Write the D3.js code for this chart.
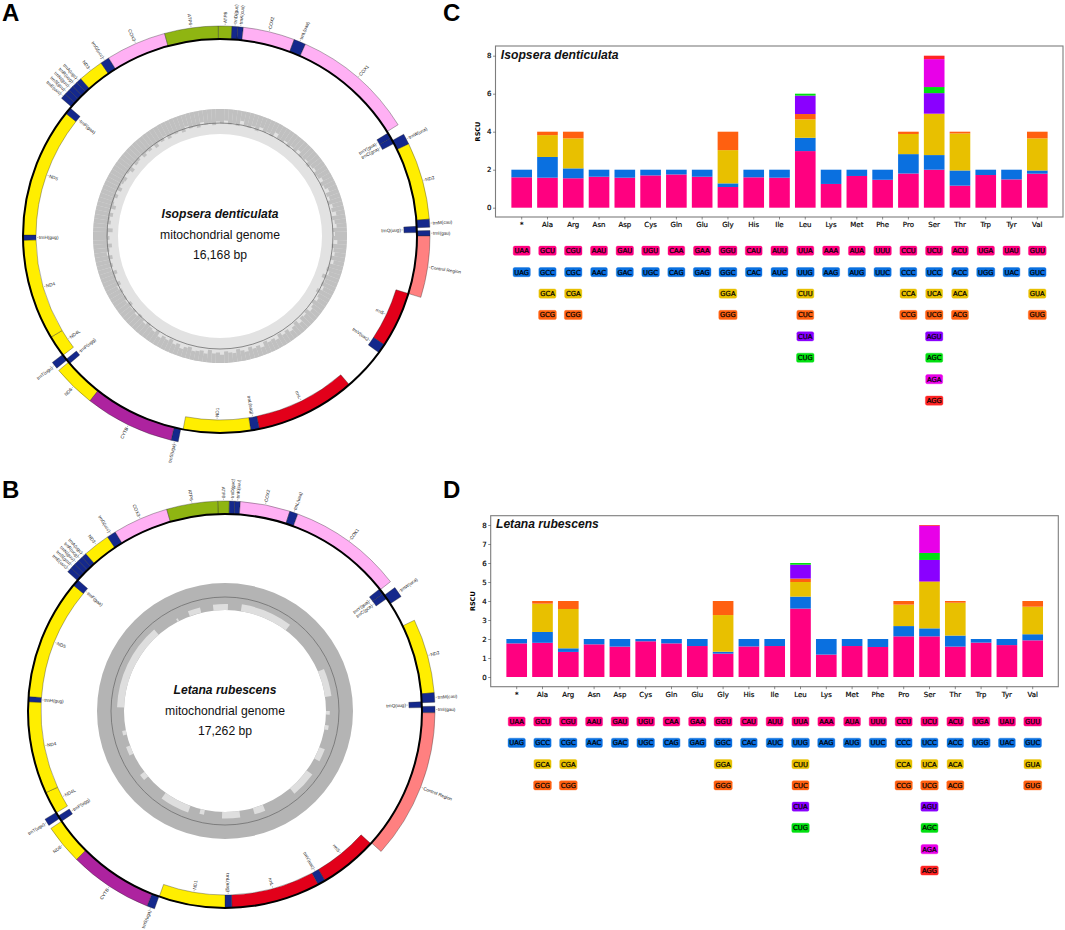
<!DOCTYPE html>
<html>
<head>
<meta charset="utf-8">
<script src="https://cdn.jsdelivr.net/npm/d3@7"></script>
<style>
html,body{margin:0;padding:0;background:#fff}
svg{display:block}
</style>
</head>
<body>
<svg id="fig" width="1065" height="930" viewBox="0 0 1065 930"></svg>
<script>
// ---------- RSCU data ----------
const aminoAcids = ["*","Ala","Arg","Asn","Asp","Cys","Gln","Glu","Gly","His","Ile","Leu","Lys","Met","Phe","Pro","Ser","Thr","Trp","Tyr","Val"];
const codons = [
 ["UAA","UAG"],["GCU","GCC","GCA","GCG"],["CGU","CGC","CGA","CGG"],["AAU","AAC"],["GAU","GAC"],["UGU","UGC"],["CAA","CAG"],["GAA","GAG"],
 ["GGU","GGC","GGA","GGG"],["CAU","CAC"],["AUU","AUC"],["UUA","UUG","CUU","CUC","CUA","CUG"],["AAA","AAG"],["AUA","AUG"],["UUU","UUC"],
 ["CCU","CCC","CCA","CCG"],["UCU","UCC","UCA","UCG","AGU","AGC","AGA","AGG"],["ACU","ACC","ACA","ACG"],["UGA","UGG"],["UAU","UAC"],["GUU","GUC","GUA","GUG"]];
const rscuIsopsera = [
 [1.6,.4],[1.58,1.09,1.15,.18],[1.55,.52,1.58,.35],[1.63,.37],[1.58,.42],[1.7,.3],[1.75,.25],[1.63,.37],
 [1.09,.19,1.75,.97],[1.6,.4],[1.58,.42],[2.98,.7,.97,.28,.97,.1],[1.25,.75],[1.67,.33],[1.47,.53],
 [1.8,1.02,1.06,.12],[2.0,.77,2.16,.02,1.08,.32,1.47,.18],[1.16,.8,1.95,.09],[1.72,.28],[1.49,.51],[1.79,.17,1.69,.35]];
const rscuLetana = [
 [1.77,.23],[1.8,.57,1.49,.14],[1.32,.19,2.07,.42],[1.72,.28],[1.6,.4],[1.88,.12],[1.77,.23],[1.63,.37],
 [1.23,.1,1.93,.74],[1.61,.39],[1.63,.37],[3.6,.63,.77,.18,.73,.09],[1.18,.82],[1.63,.37],[1.58,.42],
 [2.14,.54,1.13,.19],[2.14,.42,2.44,.03,1.13,.37,1.43,.04],[1.6,.58,1.73,.09],[1.81,.19],[1.68,.32],[1.93,.32,1.45,.3]];
const stackColors = ["#ff0080","#0a70e0","#e8c000","#ff6010","#8a00ff","#00e010","#e800e8","#ff2424"];
const ticksC = [0,2,4,6,8];
const ticksD = [0,1,2,3,4,5,6,7,8];

// ---------- genome maps: [name, type, strand (1 outside / -1 inside), start bp, end bp] ----------
const genesIsopsera = [
 ["ATP8","atp",1,16146,148],["trnD(guc)","trn",1,148,220],["trnK(cuu)","trn",1,220,287],["COX2","cox",1,287,930],["trnL(uaa)","trn",1,930,1078],
 ["COX1","cox",1,1078,2605],["trnY(gua)","trn",-1,2627,2704],["trnC(gca)","trn",-1,2704,2784],["trnW(uca)","trn",1,2740,2874],["ND2","nad",1,2874,3835],
 ["trnM(cau)","trn",1,3835,3934],["trnQ(uug)","trn",-1,3916,3997],["trnI(gau)","trn",1,3975,4042],["Control Region","cr",1,4042,4805],
 ["rrnS","rrn",-1,4805,5546],["trnV(uac)","trn",-1,5546,5672],["rrnL","rrn",-1,6242,7567],["trnL(uag)","trn",-1,7567,7680],["ND1","nad",-1,7680,8569],
 ["trnS(uga)","trn",1,8600,8690],["CYTB","cob",1,8690,9804],["ND6","nad",1,9804,10338],["trnP(ugg)","trn",-1,10316,10388],["trnT(ugu)","trn",1,10374,10464],
 ["ND4L","nad",-1,10455,10738],["ND4","nad",-1,10738,12072],["trnH(gug)","trn",-1,12072,12139],["ND5","nad",-1,12139,13855],["trnF(gaa)","trn",-1,13855,13945],
 ["trnE(uuc)","trn",1,13967,14035],["trnS(gcu)","trn",1,14035,14102],["trnN(guu)","trn",1,14102,14169],["trnR(ucg)","trn",1,14169,14237],["trnA(ugc)","trn",1,14237,14304],
 ["ND3","nad",1,14304,14618],["trnG(ucc)","trn",1,14618,14730],["COX3","cox",1,14730,15481],["ATP6","atp",1,15481,16146]];
const genesLetana = [
 ["ATP8","atp",1,17166,58],["trnD(guc)","trn",1,58,129],["trnK(cuu)","trn",1,129,201],["COX2","cox",1,201,863],["trnL(uaa)","trn",1,863,973],
 ["COX1","cox",1,973,2493],["trnY(gua)","trn",-1,2479,2561],["trnC(gca)","trn",-1,2561,2647],["trnW(uca)","trn",1,2589,2733],["ND2","nad",1,3088,4076],
 ["trnM(cau)","trn",1,4076,4200],["trnQ(uug)","trn",-1,4186,4268],["trnI(gau)","trn",1,4253,4339],["Control Region","cr",1,4339,6329],
 ["rrnS","rrn",-1,6344,7168],["trnV(uac)","trn",-1,7168,7279],["rrnL","rrn",-1,7279,8535],["trnL(uag)","trn",-1,8535,8631],["ND1","nad",-1,8631,9566],
 ["trnS(uga)","trn",1,9571,9676],["CYTB","cob",1,9676,10789],["ND6","nad",1,10789,11316],["trnP(ugg)","trn",-1,11316,11403],["trnT(ugu)","trn",1,11364,11460],
 ["ND4L","nad",-1,11455,11772],["ND4","nad",-1,11772,13076],["trnH(gug)","trn",-1,13076,13148],["ND5","nad",-1,13148,14850],["trnF(gaa)","trn",-1,14850,14946],
 ["trnE(uuc)","trn",1,14936,15003],["trnS(gcu)","trn",1,15003,15070],["trnN(guu)","trn",1,15070,15138],["trnR(ucg)","trn",1,15138,15205],["trnA(ugc)","trn",1,15205,15272],
 ["ND3","nad",1,15272,15632],["trnG(ucc)","trn",1,15632,15751],["COX3","cox",1,15751,16490],["ATP6","atp",1,16490,17166]];
const geneColors = {atp:"#8fb512",trn:"#14288c",cox:"#ffb0f4",nad:"#ffee00",cr:"#ff8080",rrn:"#e2001a",cob:"#ad239f"};

// GC track of Isopsera: read per 2-degree window, clockwise from the top (share of the track that is dark)
const gcIsopsera = [
 .58,.46,.6,.52,.62,.4,.55,.6,.5,.63,.44,.57,.52,.6,.38,.55,.58,.47,.6,.5,.56,.42,.58,.53,.48,.62,.5,.44,.56,.52,
 .4,.55,.48,.36,.52,.45,.58,.42,.5,.35,.54,.46,.4,.56,.48,.52,.38,.6,.5,.44,.58,.42,.55,.62,.48,.7,.52,.6,.45,.66,
 .5,.42,.56,.46,.38,.54,.44,.5,.36,.52,.42,.34,.48,.4,.52,.36,.46,.42,.5,.32,.44,.38,.48,.34,.42,.5,.36,.4,.46,.33,
 .42,.38,.5,.34,.44,.4,.36,.48,.42,.32,.46,.38,.52,.42,.48,.36,.56,.44,.5,.6,.46,.54,.62,.48,.58,.52,.66,.5,.6,.54,
 .62,.5,.68,.56,.6,.72,.52,.64,.58,.7,.5,.62,.74,.56,.66,.6,.78,.55,.68,.62,.72,.58,.76,.64,.6,.7,.56,.74,.62,.68,
 .72,.58,.64,.76,.6,.7,.66,.54,.72,.62,.68,.58,.74,.6,.66,.52,.7,.6,.64,.56,.68,.5,.62,.58,.66,.48,.6,.54,.64,.5];
// GC track of Letana: light patches [start bp, end bp, depth]
const gcLetana = [
 [13042,15296,.26],[15919,15967,.12],[16284,16610,.2],[16950,17262,.22],[0,77,.22],[432,1774,.26],[3213,3932,.24],[4316,4411,.14],[4699,4819,.14],
 [5322,5658,.22],[6042,6713,.26],[7576,7864,.24],[8238,8708,.24],[9182,9302,.18],[9590,10357,.26],[11004,11172,.2],[11748,11987,.16],[12299,12419,.14]];

// ---------- genome maps ----------
const svg = d3.select("#fig");
const sans = "'Liberation Sans', Arial, sans-serif";
const dejavu = "'DejaVu Sans', sans-serif";
svg.append("defs").append("filter").attr("id","soft").attr("x","-5%").attr("y","-5%").attr("width","110%").attr("height","110%")
  .append("feGaussianBlur").attr("stdDeviation",.6);

function genomeMap(cfg){
  const g = svg.append("g").attr("transform",`translate(${cfg.cx},${cfg.cy})`);
  const ang = d3.scaleLinear().domain([0,cfg.length]).range([0,2*Math.PI]);
  const R = 197, band = 13;
  const arc = d3.arc();
  // GC track
  const rr = d3.scaleLinear().domain([0,1]).range(cfg.track);
  const track = g.append("g").attr("filter","url(#soft)");
  if(cfg.gcWindows){
    track.append("path").attr("d",arc({innerRadius:rr(0),outerRadius:rr(1),startAngle:0,endAngle:2*Math.PI})).attr("fill","#e2e2e2");
    const winAng = d3.scaleLinear().domain([0,cfg.gcWindows.length]).range([0,2*Math.PI]);
    track.selectAll("path.gc").data(cfg.gcWindows).join("path").attr("class","gc")
      .attr("d",(v,i)=>arc({innerRadius:rr(1-v),outerRadius:rr(1),startAngle:winAng(i),endAngle:winAng(i+1)}))
      .attr("fill","#c0c0c0");
  } else {
    track.append("path").attr("d",arc({innerRadius:rr(0),outerRadius:rr(1),startAngle:0,endAngle:2*Math.PI})).attr("fill","#b4b4b4");
    track.selectAll("path.gc").data(cfg.gcPatches).join("path").attr("class","gc")
      .attr("d",d=>arc({innerRadius:rr(0),outerRadius:rr(d[2]),startAngle:ang(d[0]),endAngle:ang(d[1])}))
      .attr("fill","#dedede");
  }
  g.append("circle").attr("r",cfg.line).attr("fill","none").attr("stroke","#6f6f6f").attr("stroke-width",.8);
  // genes
  const span = d => d[4] < d[3] ? [d[3], d[4]+cfg.length] : [d[3], d[4]];
  g.selectAll("path.gene").data(cfg.genes).join("path").attr("class","gene")
    .attr("d",d=>{const s=span(d);return arc({innerRadius:d[2]>0?R:R-band,outerRadius:d[2]>0?R+band:R,startAngle:ang(s[0]),endAngle:ang(s[1])});})
    .attr("fill",d=>geneColors[d[1]]).attr("stroke","#222").attr("stroke-width",.35);
  g.append("circle").attr("r",R).attr("fill","none").attr("stroke","#000").attr("stroke-width",2);
  // labels
  const lab = g.selectAll("g.lab").data(cfg.genes).join("g").attr("class","lab")
    .attr("transform",d=>{
      const s=span(d), a=ang((s[0]+s[1])/2)*180/Math.PI%360, r=d[2]>0?R+band+1:R-band-1;
      return `rotate(${a}) translate(0,${-r})`;
    });
  lab.append("line").attr("y1",0).attr("y2",d=>d[2]>0?-1.5:1.5).attr("stroke","#555").attr("stroke-width",.35);
  lab.append("text")
    .attr("transform",d=>{
      const s=span(d), a=ang((s[0]+s[1])/2)*180/Math.PI%360, left=a>180;
      return `translate(0,${d[2]>0?-2:2}) rotate(${left?90:-90})`;
    })
    .attr("text-anchor",d=>{
      const s=span(d), a=ang((s[0]+s[1])/2)*180/Math.PI%360, left=a>180;
      return (d[2]>0)===left ? "end" : "start";
    })
    .attr("dy",".35em").attr("font-family",sans).attr("font-size",4.6).attr("fill","#222").text(d=>d[0]);
  // centre text
  g.append("text").attr("y",cfg.textY[0]).attr("text-anchor","middle").attr("font-family",sans).attr("font-weight","bold").attr("font-style","italic").attr("font-size",12.1).attr("fill","#111").text(cfg.species);
  g.append("text").attr("y",cfg.textY[1]).attr("text-anchor","middle").attr("font-family",sans).attr("font-size",12.2).attr("fill","#111").text("mitochondrial genome");
  g.append("text").attr("y",cfg.textY[2]).attr("text-anchor","middle").attr("font-family",sans).attr("font-size",12.2).attr("fill","#111").text(cfg.size);
}
genomeMap({cx:220,cy:236,length:16168,genes:genesIsopsera,gcWindows:gcIsopsera,track:[102,127],line:113,species:"Isopsera denticulata",size:"16,168 bp",textY:[-18,3,23]});
genomeMap({cx:225,cy:711,length:17262,genes:genesLetana,gcPatches:gcLetana,track:[101,128],line:114,species:"Letana rubescens",size:"17,262 bp",textY:[-17,4,24]});

// ---------- RSCU panels ----------
function rscuPanel(cfg){
  const g = svg.append("g");
  const x = d3.scaleBand().domain(aminoAcids).range(cfg.xRange).paddingInner(.2).paddingOuter(.1);
  const y = d3.scaleLinear().domain([0,8]).range(cfg.yRange);
  const rows = d3.scaleLinear().domain([0,7]).range(cfg.rowRange);
  const stacked = aminoAcids.map((aa,i)=>{
    let acc=0; return cfg.values[i].map((v,k)=>{const d={aa,k,y0:acc,y1:acc+v};acc+=v;return d;});
  }).flat();
  g.selectAll("rect.bar").data(stacked).join("rect").attr("class","bar")
    .attr("x",d=>x(d.aa)).attr("width",x.bandwidth())
    .attr("y",d=>y(d.y1)).attr("height",d=>y(d.y0)-y(d.y1))
    .attr("fill",d=>stackColors[d.k]);
  // box
  g.append("rect").attr("x",cfg.box[0]).attr("y",cfg.box[1]).attr("width",cfg.box[2]-cfg.box[0]).attr("height",cfg.box[3]-cfg.box[1])
    .attr("fill","none").attr("stroke","#7d7d7d").attr("stroke-width",1.1);
  // axes
  const ax = g.append("g").attr("transform",`translate(0,${cfg.box[3]})`).call(d3.axisBottom(x).tickSize(2.5).tickPadding(2.5));
  const ay = g.append("g").attr("transform",`translate(${cfg.box[0]},0)`).call(d3.axisLeft(y).tickValues(cfg.ticks).tickSize(2.5).tickPadding(1.5).tickFormat(d3.format("d")));
  [ax,ay].forEach(a=>{
    a.select(".domain").remove();
    a.selectAll("line").attr("stroke","#444").attr("stroke-width",.6);
    a.selectAll("text").attr("font-family",dejavu).attr("font-size",7).attr("fill","#000").attr("stroke","#000").attr("stroke-width",.18);
  });
  g.append("text").attr("transform",`translate(${cfg.box[0]-15.5},${(cfg.box[1]+cfg.box[3])/2}) rotate(-90)`)
    .attr("text-anchor","middle").attr("font-family",dejavu).attr("font-size",6.5).attr("font-weight","bold").text("RSCU");
  g.append("text").attr("x",cfg.box[0]+5.3).attr("y",cfg.box[1]+12.5).attr("font-family",sans).attr("font-weight","bold").attr("font-style","italic").attr("font-size",cfg.titleSize).attr("fill","#111").text(cfg.title);
  // codon labels
  const labels = aminoAcids.map((aa,i)=>codons[i].map((c,k)=>({aa,c,k}))).flat();
  const lg = g.selectAll("g.codon").data(labels).join("g").attr("class","codon")
    .attr("transform",d=>`translate(${x(d.aa)+x.bandwidth()/2},${rows(d.k)})`);
  const rects = lg.append("rect").attr("rx",1.6).attr("ry",1.6).attr("fill",d=>stackColors[d.k]).attr("stroke",d=>stackColors[d.k]).attr("stroke-opacity",.35).attr("stroke-width",1);
  const txt = lg.append("text").attr("text-anchor","middle").attr("dy",".36em").attr("font-family",dejavu).attr("font-size",6.8).attr("fill","#000").attr("stroke","#000").attr("stroke-width",.22).text(d=>d.c);
  txt.each(function(d,i){
    const w=this.getComputedTextLength()+2.5;
    d3.select(rects.nodes()[i]).attr("x",-w/2).attr("y",-4.6).attr("width",w).attr("height",9.2);
  });
}
rscuPanel({values:rscuIsopsera,xRange:[508.8,1050.2],yRange:[207.7,55.7],box:[495.5,46,1063,217],ticks:ticksC,rowRange:[250.7,400.6],title:"Isopsera denticulata",titleSize:12.2});
rscuPanel({values:rscuLetana,xRange:[503.8,1045.6],yRange:[677,525],box:[490.7,515.7,1058.3,686.7],ticks:ticksD,rowRange:[721.5,870.5],title:"Letana rubescens",titleSize:12.1});

// ---------- panel letters ----------
const panelNames = ["A","B","C","D"];
const panelX = [2,2,443,443], panelY = [21,498,21,498];
svg.selectAll("text.panel").data(panelNames).join("text").attr("class","panel")
  .attr("x",(d,i)=>panelX[i]).attr("y",(d,i)=>panelY[i]).attr("font-family",sans).attr("font-size",24).attr("font-weight","bold").attr("fill","#000").text(d=>d);
</script>
</body>
</html>
